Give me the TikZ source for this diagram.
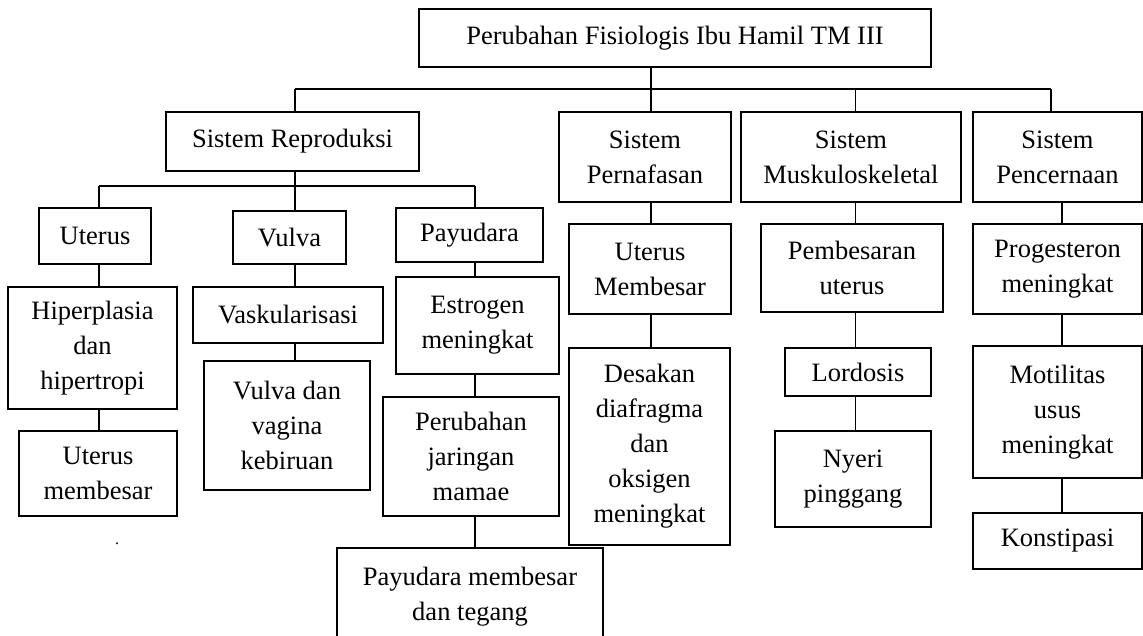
\documentclass[tikz,border=0pt]{standalone}
\usepackage{fontspec}
\setmainfont{Liberation Serif}
\begin{document}
\begin{tikzpicture}[x=1pt,y=-1pt,
  box/.style={draw=black, line width=1.2pt, inner sep=0pt, align=center,
    font=\fontsize{26.5}{35}\selectfont},
  conn/.style={draw=black, line width=1.2pt}]
\useasboundingbox (0,0) rectangle (1143,636);
% level 0
\node[box, minimum width=512, minimum height=58] (top) at (675,38) {Perubahan Fisiologis Ibu Hamil TM III};
% level 1
\node[box, minimum width=253, minimum height=59] (repro) at (292.5,141.5) {Sistem Reproduksi};
\node[box, minimum width=172, minimum height=90] (nafas) at (645,157) {Sistem\\Pernafasan};
\node[box, minimum width=220, minimum height=90] (musk) at (851,157) {Sistem\\Muskuloskeletal};
\node[box, minimum width=169, minimum height=90] (cerna) at (1057.5,157) {Sistem\\Pencernaan};
% reproduksi subtree
\node[box, minimum width=112, minimum height=56] (uterus) at (95,236) {Uterus};
\node[box, minimum width=113, minimum height=53] (vulva) at (289.5,237.5) {Vulva};
\node[box, minimum width=147, minimum height=54] (payu) at (469.5,235) {Payudara};
\node[box, minimum width=169, minimum height=122] (hiper) at (92.5,348) {Hiperplasia\\dan\\hipertropi};
\node[box, minimum width=158, minimum height=85] (utmem) at (98,473.5) {Uterus\\membesar};
\node[box, minimum width=190, minimum height=56] (vask) at (288,315) {Vaskularisasi};
\node[box, minimum width=166, minimum height=129] (vvk) at (287,425.5) {Vulva dan\\vagina\\kebiruan};
\node[box, minimum width=163, minimum height=97] (estro) at (477.5,325.5) {Estrogen\\meningkat};
\node[box, minimum width=176, minimum height=119] (perub) at (471,456.5) {Perubahan\\jaringan\\mamae};
\node[box, minimum width=266, minimum height=97] (paymem) at (470,596.5) {Payudara membesar\\dan tegang};
% pernafasan subtree
\node[box, minimum width=162, minimum height=90] (utmemb) at (650,269) {Uterus\\Membesar};
\node[box, minimum width=161, minimum height=197] (desak) at (649.5,446.5) {Desakan\\diafragma\\dan\\oksigen\\meningkat};
% muskuloskeletal subtree
\node[box, minimum width=182, minimum height=88] (pemb) at (852,268) {Pembesaran\\uterus};
\node[box, minimum width=146, minimum height=48] (lord) at (858,372) {Lordosis};
\node[box, minimum width=156, minimum height=96] (nyeri) at (853,479) {Nyeri\\pinggang};
% pencernaan subtree
\node[box, minimum width=169, minimum height=90] (prog) at (1057.5,269) {Progesteron\\meningkat};
\node[box, minimum width=169, minimum height=132] (motil) at (1057.5,412) {Motilitas\\usus\\meningkat};
\node[box, minimum width=169, minimum height=56] (konst) at (1057.5,541) {Konstipasi};
% stray dot
\node[inner sep=0pt, font=\fontsize{16}{16}\selectfont] (dot) at (117,544) {.};
% connector columns
\coordinate (busL) at (295,89);
\coordinate (busT) at (651,89);
\coordinate (busM) at (855.5,89);
\coordinate (busR) at (1051,89);
\coordinate (rbL) at (99,186);
\coordinate (rbM) at (295,186);
\coordinate (rbR) at (475,186);
\coordinate (xN) at (651,0);
\coordinate (xM) at (855.5,0);
\coordinate (xC) at (1062,0);
% top bus
\draw[conn] (top.south -| busT) -- (busT);
\draw[conn] (busL) -- (busR);
\draw[conn] (busL) -- (repro.north -| busL);
\draw[conn] (busT) -- (nafas.north -| busT);
\draw[conn] (busM) -- (musk.north -| busM);
\draw[conn] (busR) -- (cerna.north -| busR);
% reproduksi bus
\draw[conn] (repro.south -| rbM) -- (rbM);
\draw[conn] (rbL) -- (rbR);
\draw[conn] (rbL) -- (uterus.north -| rbL);
\draw[conn] (rbM) -- (vulva.north -| rbM);
\draw[conn] (rbR) -- (payu.north -| rbR);
% chains
\draw[conn] (uterus.south -| rbL) -- (hiper.north -| rbL);
\draw[conn] (hiper.south -| rbL) -- (utmem.north -| rbL);
\draw[conn] (vulva.south -| rbM) -- (vask.north -| rbM);
\draw[conn] (vask.south -| rbM) -- (vvk.north -| rbM);
\draw[conn] (payu.south -| rbR) -- (estro.north -| rbR);
\draw[conn] (estro.south -| rbR) -- (perub.north -| rbR);
\draw[conn] (perub.south -| rbR) -- (paymem.north -| rbR);
\draw[conn] (nafas.south -| xN) -- (utmemb.north -| xN);
\draw[conn] (utmemb.south -| xN) -- (desak.north -| xN);
\draw[conn] (musk.south -| xM) -- (pemb.north -| xM);
\draw[conn] (pemb.south -| xM) -- (lord.north -| xM);
\draw[conn] (lord.south -| xM) -- (nyeri.north -| xM);
\draw[conn] (cerna.south -| xC) -- (prog.north -| xC);
\draw[conn] (prog.south -| xC) -- (motil.north -| xC);
\draw[conn] (motil.south -| xC) -- (konst.north -| xC);
\end{tikzpicture}
\end{document}
